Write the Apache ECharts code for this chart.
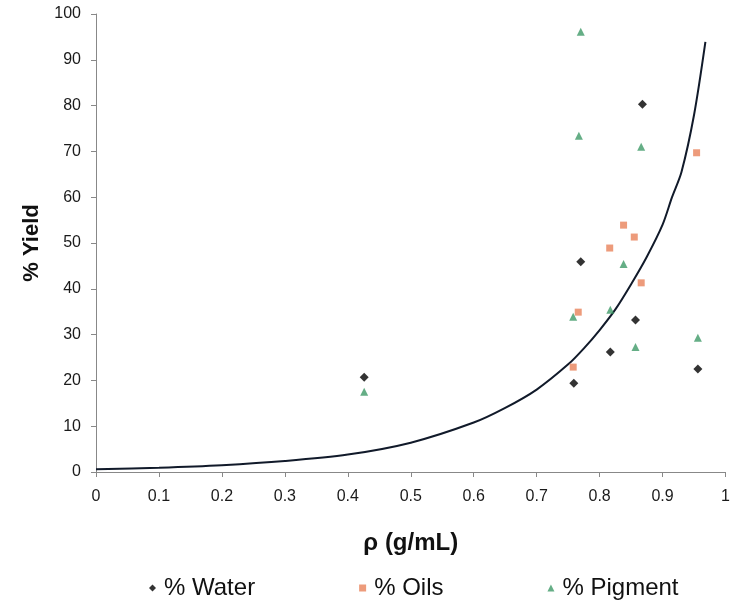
<!DOCTYPE html>
<html>
<head>
<meta charset="utf-8">
<script src="https://cdn.jsdelivr.net/npm/echarts@6/dist/echarts.min.js"></script>
<style>html,body{margin:0;padding:0;background:#fff}#c{width:733px;height:605px}</style>
</head>
<body>
<div id="c"></div>
<script>
const xTickLabels = ['0','0.1','0.2','0.3','0.4','0.5','0.6','0.7','0.8','0.9','1'];
const yTickLabels = ['0','10','20','30','40','50','60','70','80','90','100'];
const seriesNames = ['% Water','% Oils','% Pigment'];
const waterX = [0.426,0.759,0.770,0.817,0.857,0.868,0.956];
const waterY = [20.7,19.4,45.9,26.2,33.2,80.3,22.5];
const oilsX = [0.758,0.766,0.816,0.838,0.855,0.866,0.954];
const oilsY = [22.9,34.9,48.9,53.9,51.3,41.3,69.7];
const pigX = [0.426,0.758,0.767,0.770,0.817,0.838,0.857,0.866,0.956];
const pigY = [17.5,33.9,73.4,96.1,35.4,45.4,27.3,71.0,29.3];
const trendX = [0,0.1,0.2,0.3,0.4,0.5,0.6,0.65,0.7,0.75,0.775,0.8,0.825,0.85,0.875,0.9,0.915,0.93,0.95,0.968];
const trendY = [0.6,0.95,1.5,2.4,3.8,6.4,10.8,14,18,23.5,27,31,35.5,41,47,54,60,65.5,78,93.9];

const zip = (xs, ys) => xs.map((x, i) => [x, ys[i]]);
const diamond = 'path://M0,-1L1,0L0,1L-1,0Z';
const triangle = 'path://M0,-1L1,1L-1,1Z';
const font = 'Liberation Sans, Arial, sans-serif';

const chart = echarts.init(document.getElementById('c'));
chart.setOption({
  backgroundColor: '#fff',
  animation: false,
  grid: {left: 96, right: 1, top: 14, bottom: 133, containLabel: false},
  xAxis: {
    type: 'value', min: 0, max: 1, interval: 0.1,
    axisLine: {show: true, lineStyle: {color: '#888', width: 1}},
    axisTick: {show: true, length: 5, lineStyle: {color: '#888'}},
    splitLine: {show: false},
    axisLabel: {color: '#1a1a1a', fontSize: 16, fontFamily: font, margin: 17,
      formatter: (v) => xTickLabels[Math.round(v * 10)]},
    name: 'ρ (g/mL)', nameLocation: 'middle', nameGap: 59,
    nameTextStyle: {color: '#111', fontSize: 24, fontWeight: 'bold', fontFamily: font}
  },
  yAxis: {
    type: 'value', min: 0, max: 100, interval: 10,
    axisLine: {show: true, lineStyle: {color: '#888', width: 1}},
    axisTick: {show: true, length: 5, lineStyle: {color: '#888'}},
    splitLine: {show: false},
    axisLabel: {color: '#1a1a1a', fontSize: 16, fontFamily: font, margin: 15,
      formatter: (v) => yTickLabels[Math.round(v / 10)]},
    name: '% Yield', nameLocation: 'middle', nameGap: 52, nameRotate: 90,
    nameTextStyle: {color: '#111', fontSize: 22, fontWeight: 'bold', fontFamily: font}
  },
  legend: {
    data: [
      {name: seriesNames[0], icon: diamond},
      {name: seriesNames[1], icon: 'rect'},
      {name: seriesNames[2], icon: triangle}
    ],
    bottom: 0, left: 144, itemGap: 104, itemWidth: 7, itemHeight: 7,
    textStyle: {color: '#111', fontSize: 24, fontFamily: font, padding: [0, 0, 0, 3]}
  },
  series: [
    {name: 'trend', type: 'line', data: zip(trendX, trendY), smooth: 0.3, symbol: 'none',
      lineStyle: {color: '#111a2a', width: 2}, z: 1, silent: true},
    {name: seriesNames[0], type: 'scatter', data: zip(waterX, waterY), symbol: diamond, symbolSize: 9,
      itemStyle: {color: '#000'}, z: 3},
    {name: seriesNames[1], type: 'scatter', data: zip(oilsX, oilsY), symbol: 'rect', symbolSize: 7,
      itemStyle: {color: '#e8825a'}, z: 3},
    {name: seriesNames[2], type: 'scatter', data: zip(pigX, pigY), symbol: triangle, symbolSize: 8,
      itemStyle: {color: '#3f9a68'}, z: 3}
  ]
});
</script>
</body>
</html>
